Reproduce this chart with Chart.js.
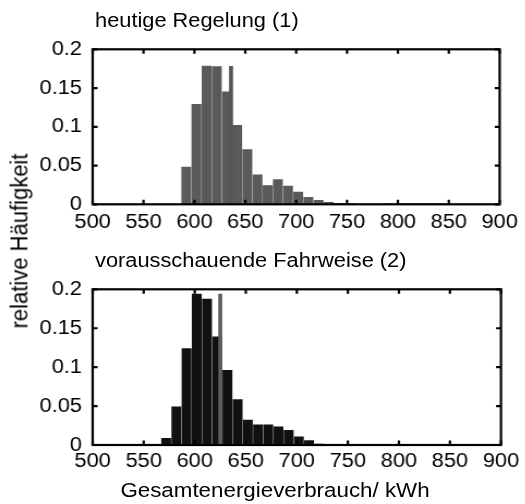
<!DOCTYPE html>
<html>
<head>
<meta charset="utf-8">
<script src="https://cdn.jsdelivr.net/npm/chart.js@4/dist/chart.umd.min.js"></script>
<style>
  html, body { margin: 0; padding: 0; background: #fff; }
  body { width: 525px; height: 504px; position: relative; overflow: hidden;
         font-family: "Liberation Sans", Arial, sans-serif; color: #000; }
  #stage { position: absolute; left: 0; top: 0; width: 481.7px; height: 504px;
           transform: scaleX(1.09); transform-origin: 0 0; }
  #stage canvas { position: absolute; left: 0; top: 0; }
  .txt { position: absolute; font-size: 20px; line-height: 1; white-space: nowrap; }
  #ylabel { position: absolute; font-size: 22px; line-height: 1; white-space: nowrap;
            left: 18.4px; top: 240.8px; transform: translate(-50%, -50%) rotate(-90deg); }
</style>
</head>
<body>
<div id="stage">
  <canvas id="top-chart" width="481" height="504"></canvas>
  <canvas id="bottom-chart" width="481" height="504"></canvas>
  <div class="txt" style="left:87.2px; top:9.8px;">heutige Regelung (1)</div>
  <div class="txt" style="left:87.2px; top:249.8px;">vorausschauende Fahrweise (2)</div>
  <div class="txt" style="left:252.3px; top:479.6px; font-size:20.5px; transform: translateX(-50%);">Gesamtenergieverbrauch/ kWh</div>
  <div id="ylabel">relative Häufigkeit</div>
</div>

<script>
// x axis ticks (kWh) and y axis ticks (relative frequency)
const X_MIN = 500;
const X_MAX = 900;
const X_STEP = 50;
const Y_MAX = 0.2;
const Y_STEP = 0.05;

// (1) heutige Regelung: bin centres and relative frequencies
const topBins = [592, 602, 612, 622, 632, 642, 652, 662, 672, 682, 692, 702,
                 712, 722, 732, 742, 752, 792, 802, 812, 822, 832, 842];
const topFreq = [0.048, 0.129, 0.1785, 0.1776, 0.145, 0.102, 0.0705, 0.038,
                 0.024, 0.032, 0.0235, 0.0158, 0.009, 0.005, 0.0026, 0.0012,
                 0.001, 0.0007, 0.0007, 0.0007, 0.0007, 0.0007, 0.0007];
const topMarkerX = [636];
const topMarkerY = [0.178];

// (2) vorausschauende Fahrweise
const bottomBins = [572, 582, 592, 602, 612, 622, 632, 642, 652, 662, 672, 682,
                    692, 702, 712, 722, 732, 742];
const bottomFreq = [0.0086, 0.049, 0.124, 0.194, 0.1875, 0.139, 0.096, 0.0585,
                    0.032, 0.026, 0.026, 0.0235, 0.019, 0.0105, 0.0056, 0.0011,
                    0.0008, 0.0008];
const bottomMarkerX = [625];
const bottomMarkerY = [0.194];

Chart.defaults.font.family = '"Liberation Sans", Arial, sans-serif';
Chart.defaults.font.size = 20;
Chart.defaults.color = "#000";

const TICK_LEN = 4.5;
const Y_AXIS_W = 85;
const X_AXIS_H = 40;

// box around the plot area with inward ticks on all four sides
const framePlugin = {
  id: "frame",
  afterDraw(chart) {
    const { ctx, chartArea: a, scales } = chart;
    ctx.save();
    ctx.strokeStyle = "#000";
    ctx.lineWidth = 2.2;
    ctx.beginPath();
    for (const t of scales.x.ticks) {
      const px = scales.x.getPixelForValue(t.value);
      ctx.moveTo(px, a.bottom); ctx.lineTo(px, a.bottom - TICK_LEN);
      ctx.moveTo(px, a.top); ctx.lineTo(px, a.top + TICK_LEN);
    }
    for (const t of scales.y.ticks) {
      const py = scales.y.getPixelForValue(t.value);
      ctx.moveTo(a.left, py); ctx.lineTo(a.left + TICK_LEN, py);
      ctx.moveTo(a.right, py); ctx.lineTo(a.right - TICK_LEN, py);
    }
    ctx.stroke();
    ctx.strokeRect(a.left, a.top, a.right - a.left, a.bottom - a.top);
    ctx.restore();
  },
};

function toPoints(xs, ys) {
  return xs.map((x, i) => ({ x, y: ys[i] }));
}

function makeHist(canvasId, bins, freq, markerX, markerY, barColor, markerColor, pad, xLabelPad) {
  return new Chart(document.getElementById(canvasId), {
    type: "bar",
    data: {
      datasets: [
        {
          data: toPoints(markerX, markerY),
          backgroundColor: markerColor,
          barThickness: 3,
          grouped: false,
          borderWidth: 0,
        },
        {
          data: toPoints(bins, freq),
          backgroundColor: barColor,
          barThickness: 8.4,
          grouped: false,
          borderWidth: 0,
        },
      ],
    },
    options: {
      responsive: false,
      animation: false,
      devicePixelRatio: 1,
      layout: { padding: pad },
      plugins: { legend: { display: false }, tooltip: { enabled: false } },
      scales: {
        x: {
          type: "linear",
          min: X_MIN,
          max: X_MAX,
          offset: false,
          grid: { display: false, drawTicks: false },
          border: { display: false },
          ticks: { stepSize: X_STEP, padding: xLabelPad, maxRotation: 0, autoSkip: false },
          afterFit: (s) => { s.height = X_AXIS_H; },
        },
        y: {
          min: 0,
          max: Y_MAX,
          grid: { display: false, drawTicks: false },
          border: { display: false },
          ticks: {
            stepSize: Y_STEP,
            padding: 9.8,
            callback: (v) => String(Number(v.toFixed(2))),
          },
          afterFit: (s) => { s.width = Y_AXIS_W; },
        },
      },
    },
    plugins: [framePlugin],
  });
}

makeHist("top-chart", topBins, topFreq, topMarkerX, topMarkerY, "#5a5a5a", "#555555",
  { left: 0, right: 16.5, top: 49.3, bottom: 299.7 - X_AXIS_H }, 5.9);
makeHist("bottom-chart", bottomBins, bottomFreq, bottomMarkerX, bottomMarkerY, "#111111", "#5e5e5e",
  { left: 0, right: 16.5, top: 289.3, bottom: 59 - X_AXIS_H }, 4.7);
</script>
</body>
</html>
